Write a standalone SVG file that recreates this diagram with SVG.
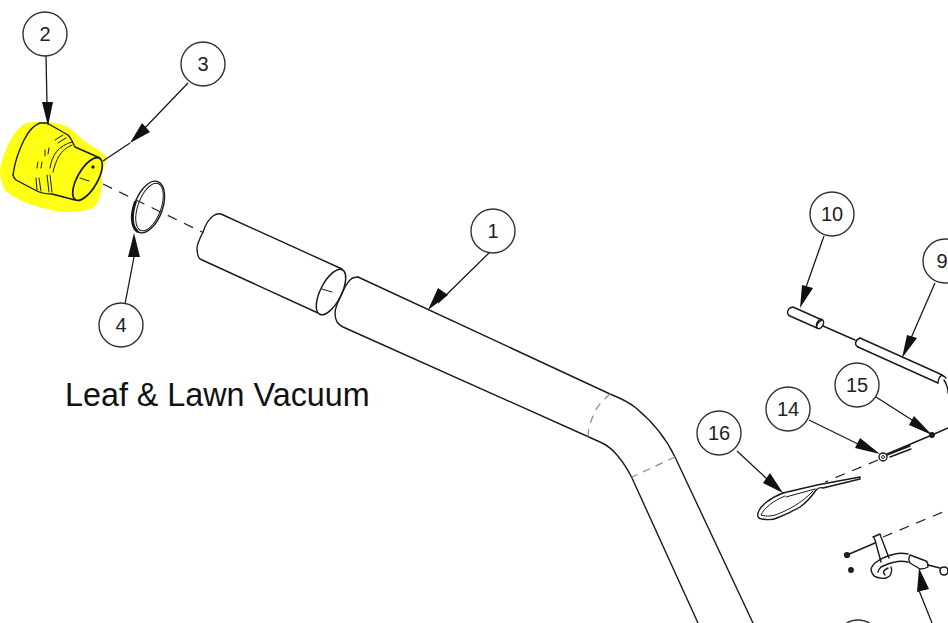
<svg xmlns="http://www.w3.org/2000/svg" width="948" height="623" viewBox="0 0 948 623">
<style>
.l{fill:none;stroke:#1a1a1a;stroke-width:1.4;stroke-linecap:round;stroke-linejoin:round}
.f{stroke-width:1}
.d{fill:none;stroke:#222;stroke-width:1.2;stroke-dasharray:10 8}
.g{fill:none;stroke:#888;stroke-width:1.2;stroke-dasharray:7 7}
.c{fill:#fff;stroke:#333;stroke-width:1.4}
.n{font:20px "Liberation Sans",Arial,sans-serif;fill:#222;text-anchor:middle}
.a{fill:#111;stroke:none}
.ldr{stroke:#1a1a1a;stroke-width:1.3;fill:none}
</style>
<rect width="948" height="623" fill="#fff"/>
<path id="highlight" d="M23 125C30 121 36 122 43 122C52 122 62 124 68 127C74 131 79 136 83 140C92 146 101 151 107 157C106 163 103 168 102 173C102 182 102 190 100 197C98 202 96 206 93 208C85 211 76 212 67 212C58 212 50 210 43 208C35 206 27 203 20 200C14 197 9 194 5 190C2 184 0 177 0 170C1 162 4 154 7 147C11 138 16 130 23 125Z" fill="#ffff14"/>
<g id="parts">
<g id="part-2" class="l">
<path d="M13 175C15 160 20 148 24 140C28 132 34 125 40 123L47 123L68 135C71 138 73 143 75 147L100 158"/>
<path d="M13 175C13 177 14 178 16 180L35 190C40 193 46 194 52 194L75 200"/>
<ellipse cx="87.5" cy="179" rx="10" ry="24" transform="rotate(30 87.5 179)" stroke-width="1.7"/>
<path class="f" d="M55 140L63 135M58 143L66 138M50 168C52 155 58 146 72 142M53 172C56 160 60 150 72 145M45 150V156M49 148L48 154M38 162L37 168M42 162L41 168M36 178L37 190M39 178L41 191M47 175L49 192M50 175L52 192"/>
<path class="f" d="M80 178L89 181"/>
<circle cx="93" cy="167" r="1" fill="#222"/>
</g>
<path id="axis-left" class="d" d="M103 184L202 232"/>
<g id="part-4" class="l">
<ellipse cx="148.5" cy="207" rx="14" ry="27" transform="rotate(20 148.5 207)"/>
<ellipse cx="149.5" cy="207" rx="11.5" ry="25" transform="rotate(20 149.5 207)" stroke-width="1"/>
<path d="M135.3 202.2A14 27 20 0 0 137.1 231.2" stroke-width="3"/>
</g>
<g id="part-tube-short" class="l">
<path d="M203 232C205 226 209 219 213 216C216 214 218 213 221 214L342 269"/>
<path d="M203 232C199 240 197 244 197 248C197 253 198 257 200 259L318 313"/>
<ellipse cx="331" cy="292" rx="10.5" ry="25" transform="rotate(27 331 292)" stroke-width="1.5"/>
<path class="f" d="M322 289L332 292"/>
</g>
<g id="part-1" class="l">
<path d="M358 277L610 394C620 398 630 403 636 408C648 418 665 436 675 457L753 623"/>
<path d="M358 277C355 277 352 278 350 280C346 284 342 293 340 298C337 304 335 309 335 313C335 317 336 320 337 322C339 325 341 326 343 327L600 442C607 445 612 449 617 455C623 462 628 470 632 478L698 623"/>
<path class="g" d="M610 394C601 402 596 408 594 414C590 422 588 430 588 438M675 457L632 477"/>
</g>
<g id="part-10" class="l">
<path d="M793 307L822 320C818 322 816 325 817 328L790 316C786 314 787 308 793 307Z"/>
<ellipse cx="820" cy="324" rx="3.2" ry="5" transform="rotate(26 820 324)"/>
<path d="M823 326L855 340"/>
</g>
<g id="part-9" class="l">
<path d="M860 338L938 373C942 375 944 376 946 378M858 347L938 383"/>
<path d="M860 338C855 340 854 345 858 347"/>
<path d="M942 375C939 377 938 380 938 383M944 380C946 383 948 386 948 393"/>
</g>
<g id="part-14-15" class="l">
<circle cx="883" cy="457" r="4" stroke-width="1.4"/>
<circle cx="883" cy="457" r="1.5" stroke-width=".9"/>
<path d="M887 454L932 435L948 428M890 457L911 449M887 455L910 446"/>
<circle cx="932" cy="435" r="2.2" fill="#222"/>
</g>
<path id="axis-right" class="d" d="M878 460L825 482"/>
<path id="axis-right-2" class="d" d="M883 537L943 512"/>
<g id="part-16" class="l">
<path d="M783 493C770 498 760 506 758 513C757 517 759 519 762 519C768 520 773 520 777 518C785 515 793 511 800 507C807 502 812 496 816 490"/>
<path class="f" d="M785 496C773 501 764 508 761 515C767 517 773 516 778 514C788 510 802 503 813 491"/>
<path d="M783 493L817 485L860 477L860 479L823 488C820 487 818 488 816 490"/>
<path class="f" d="M786 497L815 489"/>
</g>
<g id="part-bottom" class="l">
<path d="M847 555L875 543"/>
<circle cx="847" cy="555" r="2.4" fill="#222"/>
<circle cx="851" cy="570" r="2.2" fill="#222"/>
<path d="M875 540C874 537 873 537 873 537L880 534L881 537L889 558M875 540L881 562"/>
<path d="M908 554C903 553 899 553 895 554C886 556 880 559 875 563C872 566 871 568 871 570C872 574 873 576 876 577C879 578 883 579 886 578C889 577 891 575 891 573C892 571 892 569 891 567"/>
<path d="M908 562C903 561 899 561 895 562C889 563 885 565 881 567C879 569 878 570 878 572M888 568C884 570 882 572 885 575"/>
<path d="M910 555L926 561C928 562 928 564 928 567C925 569 922 569 920 569L910 563C908 560 909 557 910 555Z"/>
<path d="M928 565L940 568"/>
<circle cx="944" cy="571" r="4" stroke-width="1.6"/>
</g>
</g>
<g id="connectors">
<path class="ldr" d="M46 55L47 105M188 83L140 133M130 143L103 161M491 251L438 303M824 236L805 290M935 283L911 338M876 397L912 420M809 420L858 444M737 451L767 479M918 588L932 623M134 257L125 304"/>
<path class="a" d="M48 126L42 102H53ZM130 143L142 123L150 132ZM428 310L438 288L448 295ZM800 308L802 285L813 288ZM902 358L907 335L917 338ZM932 435L914 416L909 425ZM880 454L860 438L855 448ZM783 493L770 473L763 483ZM919 568L917 592L929 589ZM134 233L128 257L140 257Z"/>
</g>
<g id="callout-2"><circle class="c" cx="45" cy="34" r="22"/><text class="n" x="45" y="41">2</text></g>
<g id="callout-3"><circle class="c" cx="203" cy="64" r="22"/><text class="n" x="203" y="71">3</text></g>
<g id="callout-4"><circle class="c" cx="121" cy="325" r="22"/><text class="n" x="121" y="332">4</text></g>
<g id="callout-1"><circle class="c" cx="493" cy="231" r="22"/><text class="n" x="493" y="238">1</text></g>
<g id="callout-10"><circle class="c" cx="832" cy="214" r="22"/><text class="n" x="832" y="221">10</text></g>
<g id="callout-9"><circle class="c" cx="945" cy="261" r="22"/><text class="n" x="942" y="268">9</text></g>
<g id="callout-15"><circle class="c" cx="857" cy="385" r="22"/><text class="n" x="857" y="392">15</text></g>
<g id="callout-14"><circle class="c" cx="788" cy="409" r="22"/><text class="n" x="788" y="416">14</text></g>
<g id="callout-16"><circle class="c" cx="719" cy="433" r="22"/><text class="n" x="719" y="440">16</text></g>
<g id="callout-partial"><circle class="c" cx="858" cy="642" r="22"/></g>
<text id="title" x="65" y="406" font-family="Liberation Sans,Arial,sans-serif" font-size="32.3" fill="#111">Leaf &amp; Lawn Vacuum</text>
</svg>
